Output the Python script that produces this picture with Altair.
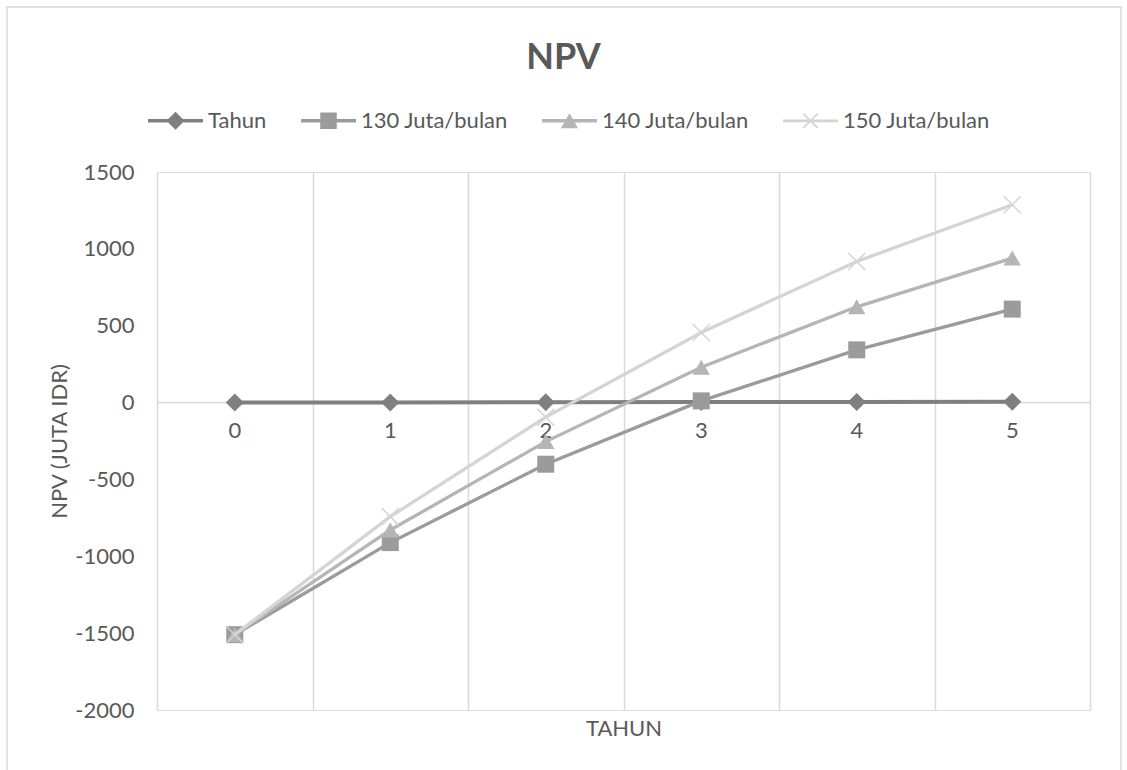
import altair as alt
import pandas as pd

# Series values (juta IDR) per tahun
years = [0, 1, 2, 3, 4, 5]
tahun = [0, 1, 2, 3, 4, 5]
npv_130 = [-1510, -911, -401, 11, 343, 608]
npv_140 = [-1510, -829, -254, 230, 623, 940]
npv_150 = [-1510, -742, -95, 456, 918, 1287]

series_names = ["Tahun", "130 Juta/bulan", "140 Juta/bulan", "150 Juta/bulan"]
series_values = [tahun, npv_130, npv_140, npv_150]
series_colors = ["#7f7f7f", "#9b9b9b", "#b5b5b5", "#d4d4d4"]

y_ticks = [-2000, -1500, -1000, -500, 0, 500, 1000, 1500]
x_grid = [-0.5, 0.5, 1.5, 2.5, 3.5, 4.5, 5.5]

FONT = "Lato"
TEXT = "#595959"
GRID = "#d9d9d9"

# marker shapes (plot) and combined line+marker glyphs (legend)
X_PATH = "M-1,-1L1,1M-1,1L1,-1"


def rect(t):
    return f"M-1,{-t}H1V{t}H-1Z"


def x_glyph(a, e):
    r1 = f"M{-a+e},{-a-e}L{a+e},{a-e}L{a-e},{a+e}L{-a-e},{-a+e}Z"
    r2 = f"M{-a-e},{a-e}L{a-e},{-a-e}L{a+e},{-a+e}L{-a+e},{a+e}Z"
    return r1 + r2


t = 0.062
legend_paths = [
    rect(t) + "M0,-0.33L0.33,0L0,0.33L-0.33,0Z",
    rect(t) + "M-0.3,-0.3H0.3V0.3H-0.3Z",
    rect(t) + "M0,-0.27L0.31,0.27L-0.31,0.27Z",
    rect(0.05) + x_glyph(0.26, 0.022),
]

x_enc = alt.X(
    "year:Q",
    scale=alt.Scale(domain=[-0.5, 5.5], nice=False, zero=False),
    axis=alt.Axis(
        values=x_grid, grid=True, gridColor=GRID, gridWidth=1.5,
        labels=False, ticks=False, domain=False,
        title="TAHUN", titleFont=FONT, titleFontSize=22, titleFontWeight="normal",
        titleColor=TEXT, titleY=18, titleBaseline="middle",
    ),
)
y_enc = alt.Y(
    "value:Q",
    scale=alt.Scale(domain=[-2000, 1500], nice=False, zero=False),
    axis=alt.Axis(
        values=y_ticks, grid=False, ticks=False, domain=False,
        labelPadding=23, labelFont=FONT, labelFontSize=22, labelColor=TEXT,
        labelExpr="'' + datum.value",
        title="NPV (JUTA IDR)", titleFont=FONT, titleFontSize=22,
        titleFontWeight="normal", titleColor=TEXT,
        titleAngle=-90, titleX=-98, titleY=269,
        titleAlign="center", titleBaseline="middle",
    ),
)

border_df = pd.DataFrame({"k": [0]})
border = alt.Chart(border_df).mark_rect(
    fillOpacity=0, stroke=GRID, strokeWidth=1.5
).encode(
    x=alt.value(-150), x2=alt.value(964), y=alt.value(-165), y2=alt.value(620)
)

zero_rule = alt.Chart(border_df).mark_rule(color=GRID, strokeWidth=1.5).encode(
    y=alt.datum(0)
)

label_df = pd.DataFrame({"year": years, "label": [str(v) for v in years]})
x_labels = alt.Chart(label_df).mark_text(
    font=FONT, fontSize=22, color=TEXT, dy=28
).encode(x=x_enc, y=alt.datum(0), text="label:N")

layers = [border, zero_rule, x_labels]

marker_specs = [
    dict(shape="diamond", size=324, filled=True),
    dict(shape="square", size=289, filled=True),
    dict(shape="triangle-up", size=300, filled=True),
    dict(shape=X_PATH, size=289, filled=False, strokeWidth=1.5),
]

for name, vals, color, spec in zip(series_names, series_values, series_colors, marker_specs):
    df = pd.DataFrame({"year": years, "value": vals, "series": name})
    line = alt.Chart(df).mark_line(
        color=color, strokeWidth=4 if name == "Tahun" else 3.3
    ).encode(x=x_enc, y=y_enc)
    pts = alt.Chart(df).mark_point(color=color, opacity=1, **spec).encode(
        x=x_enc, y=y_enc
    )
    layers += [line, pts]

# legend entries, drawn outside the x domain and clipped away
legend_df = pd.DataFrame({"series": series_names, "year": [20] * 4, "value": [0] * 4})
legend_kw = dict(
    title=None, orient="none", legendX=-9, legendY=-79, direction="horizontal",
    symbolSize=3025, symbolOpacity=1, symbolStrokeWidth=0,
    labelFont=FONT, labelFontSize=22, labelColor=TEXT, labelOffset=5,
    columnPadding=34, padding=0,
)
legend_layer = alt.Chart(legend_df).mark_point(filled=True, clip=True, size=10).encode(
    x=x_enc, y=y_enc,
    color=alt.Color("series:N", scale=alt.Scale(domain=series_names, range=series_colors),
                    sort=series_names, legend=alt.Legend(**legend_kw)),
    shape=alt.Shape("series:N", scale=alt.Scale(domain=series_names, range=legend_paths),
                    sort=series_names, legend=alt.Legend(**legend_kw)),
)
layers.append(legend_layer)

chart = alt.layer(*layers).properties(
    width=933,
    height=538,
    title=alt.TitleParams(
        "NPV", font=FONT, fontSize=36, fontWeight="bold", color=TEXT,
        anchor="middle", frame="group", dx=-60, offset=-88, baseline="middle",
    ),
    autosize=alt.AutoSizeParams(type="none"),
    padding={"left": 157, "top": 172, "right": 37, "bottom": 60},
).configure_view(stroke=None).configure(background="white")

chart.save("out.html", embed_options={"renderer": "svg", "actions": False})
